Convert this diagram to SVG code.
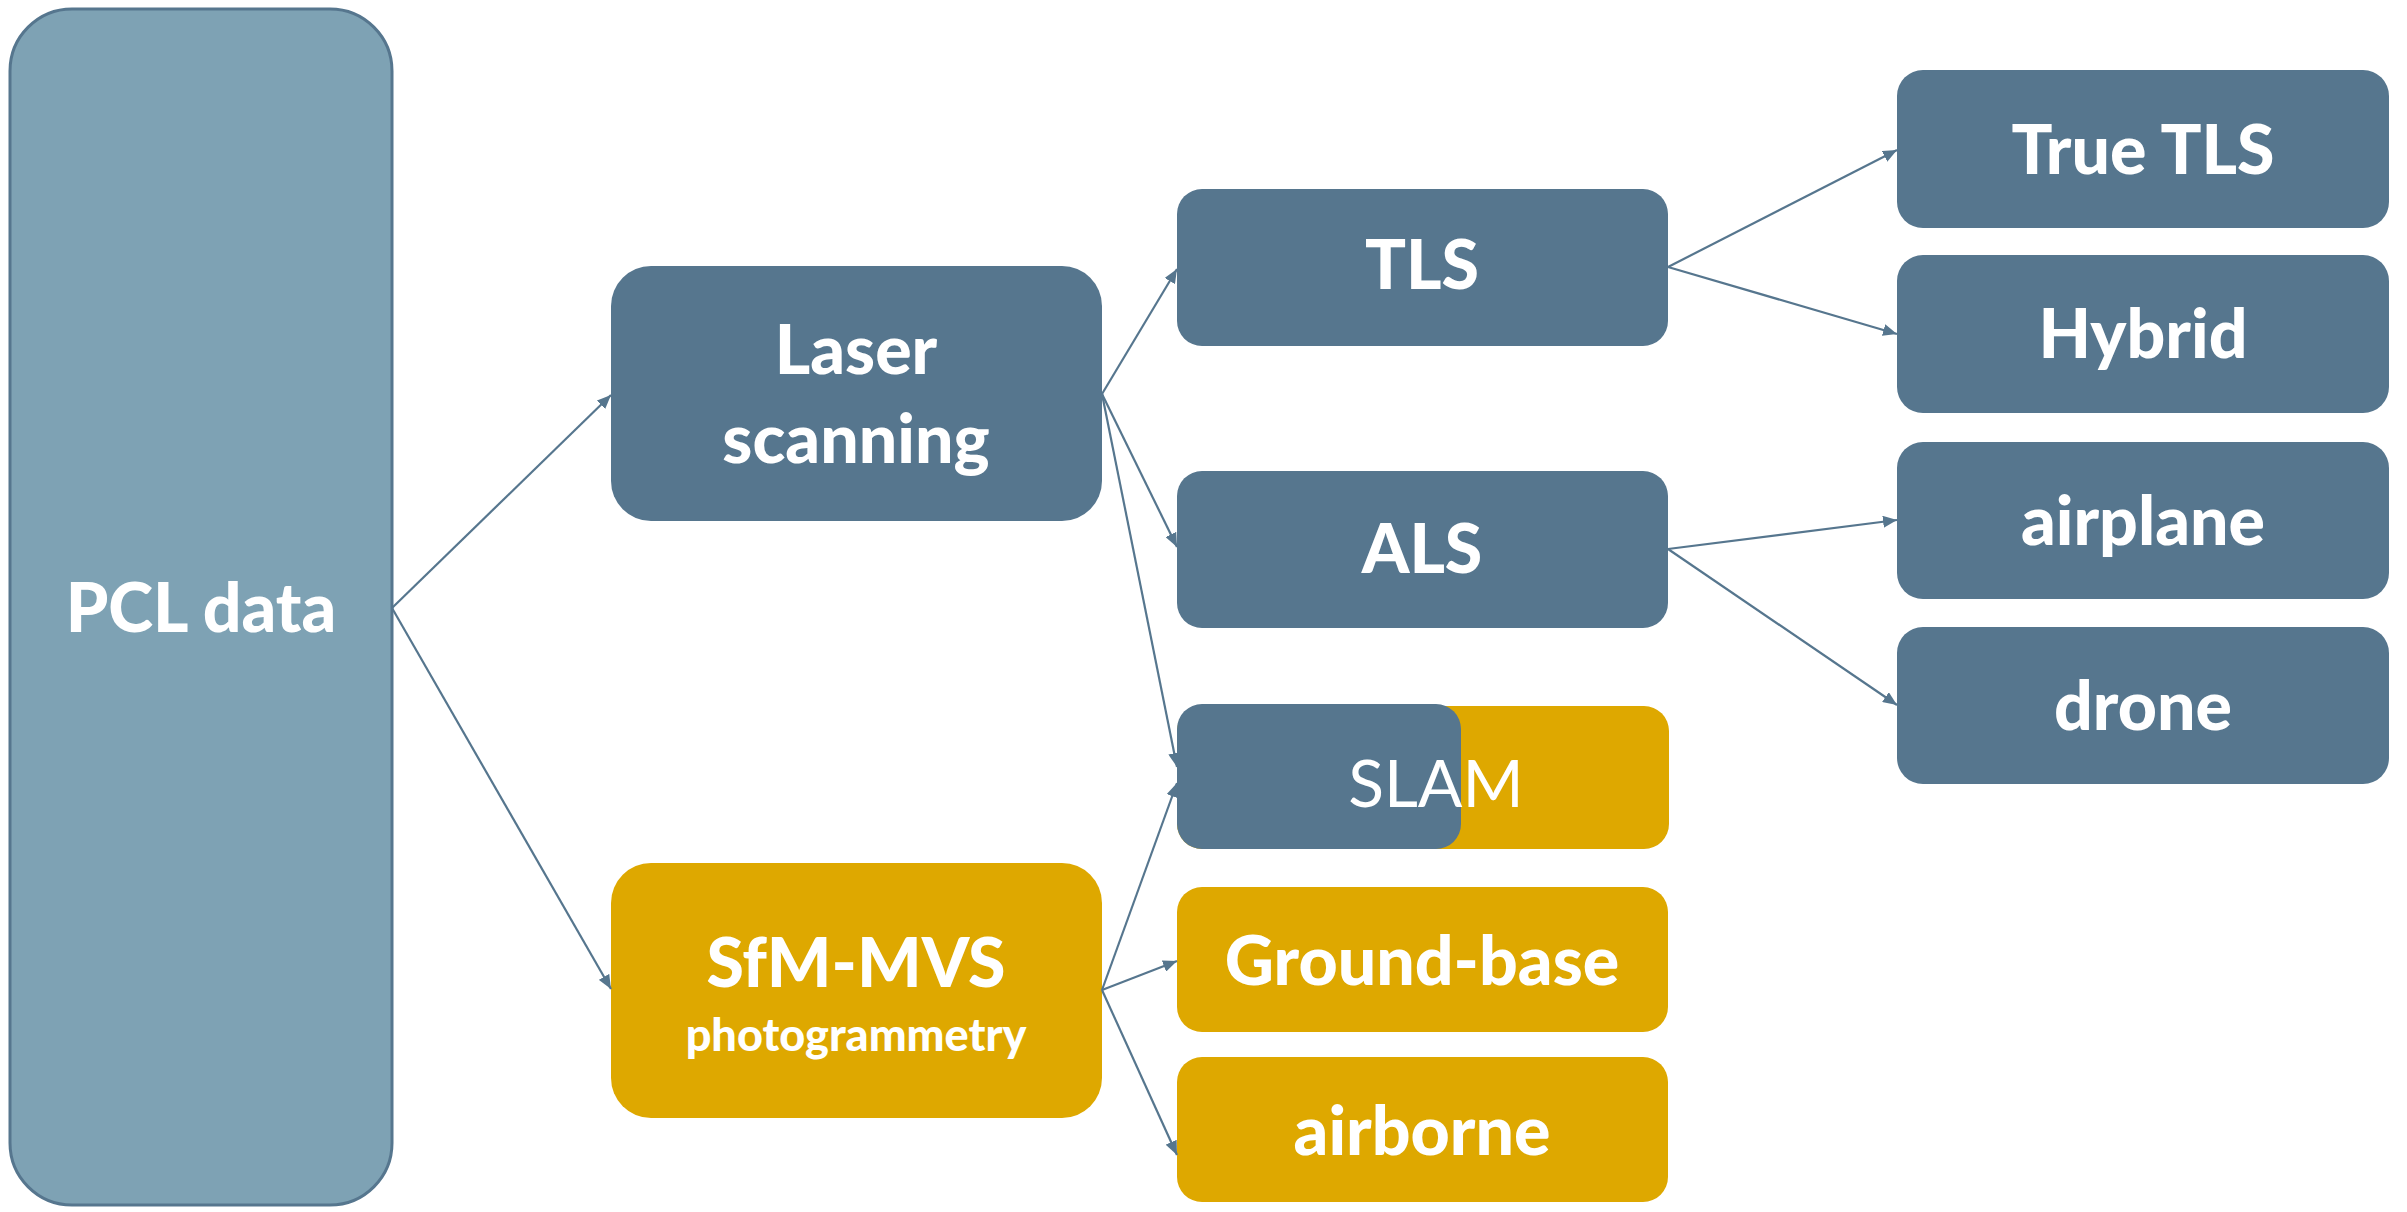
<svg xmlns="http://www.w3.org/2000/svg" width="2407" height="1212" viewBox="0 0 2407 1212">
<style>
.blue{fill:#56768e}
.orange{fill:#dea800}
.pcl{fill:#7ea2b4;stroke:#56768e;stroke-width:3}
.t{font-family:Lato,"Open Sans",sans-serif;font-weight:900;fill:#ffffff;text-anchor:middle;font-size:68px}
.tr{font-family:Lato,"Open Sans",sans-serif;font-weight:normal;fill:#ffffff;text-anchor:middle;font-size:66px}
.small{font-size:45px}
.c{stroke:#56768e;stroke-width:2.2;fill:none;marker-end:url(#ah)}
</style>
<defs>
<marker id="ah" markerUnits="userSpaceOnUse" markerWidth="14" markerHeight="12" refX="14" refY="6" orient="auto">
<path d="M0,0 L14,6 L0,12 z" fill="#56768e"/>
</marker>
</defs>
<g id="pcl">
<rect class="pcl" x="10" y="9" width="382" height="1196" rx="62"/>
<text class="t" x="201" y="632">PCL data</text>
</g>
<g id="laser">
<rect class="blue" x="611" y="266" width="491" height="255" rx="40"/>
<text class="t" x="856" y="374">Laser</text>
<text class="t" x="856" y="463">scanning</text>
</g>
<g id="sfm">
<rect class="orange" x="611" y="863" width="491" height="255" rx="40"/>
<text class="t" x="856" y="987">SfM-MVS</text>
<text class="t small" x="856" y="1051">photogrammetry</text>
</g>
<g id="tls">
<rect class="blue" x="1177" y="189" width="491" height="157" rx="25"/>
<text class="t" x="1422" y="289">TLS</text>
</g>
<g id="als">
<rect class="blue" x="1177" y="471" width="491" height="157" rx="25"/>
<text class="t" x="1422" y="573">ALS</text>
</g>
<g id="slam">
<rect class="orange" x="1177" y="706" width="492" height="143" rx="25"/>
<rect class="blue" x="1177" y="704" width="284" height="145" rx="25"/>
<text class="tr" x="1436" y="807">SLAM</text>
</g>
<g id="groundbase">
<rect class="orange" x="1177" y="887" width="491" height="145" rx="25"/>
<text class="t" x="1422" y="985">Ground-base</text>
</g>
<g id="airborne">
<rect class="orange" x="1177" y="1057" width="491" height="145" rx="25"/>
<text class="t" x="1422" y="1155">airborne</text>
</g>
<g id="truetls">
<rect class="blue" x="1897" y="70" width="492" height="158" rx="26"/>
<text class="t" x="2143" y="174">True TLS</text>
</g>
<g id="hybrid">
<rect class="blue" x="1897" y="255" width="492" height="158" rx="26"/>
<text class="t" x="2143" y="358">Hybrid</text>
</g>
<g id="airplane">
<rect class="blue" x="1897" y="442" width="492" height="157" rx="26"/>
<text class="t" x="2143" y="545">airplane</text>
</g>
<g id="drone">
<rect class="blue" x="1897" y="627" width="492" height="157" rx="26"/>
<text class="t" x="2143" y="730">drone</text>
</g>
<g id="connectors">
<line class="c" x1="392" y1="608" x2="611" y2="395"/>
<line class="c" x1="392" y1="608" x2="611" y2="989"/>
<line class="c" x1="1102" y1="394" x2="1177" y2="269"/>
<line class="c" x1="1102" y1="394" x2="1177" y2="547"/>
<line class="c" x1="1102" y1="394" x2="1177" y2="767"/>
<line class="c" x1="1102" y1="990" x2="1177" y2="783"/>
<line class="c" x1="1102" y1="990" x2="1177" y2="961"/>
<line class="c" x1="1102" y1="990" x2="1177" y2="1155"/>
<line class="c" x1="1668" y1="267" x2="1897" y2="150"/>
<line class="c" x1="1668" y1="267" x2="1897" y2="334"/>
<line class="c" x1="1668" y1="549" x2="1897" y2="520"/>
<line class="c" x1="1668" y1="549" x2="1897" y2="705"/>
</g>
</svg>
